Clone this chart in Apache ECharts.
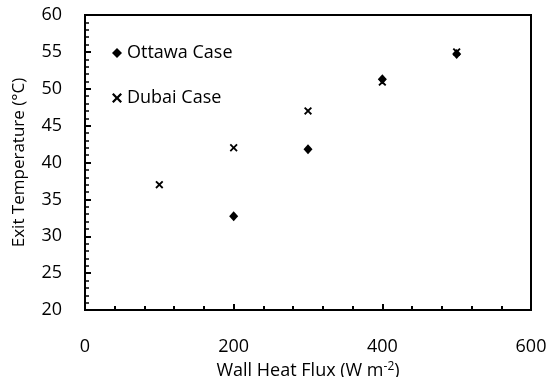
<!DOCTYPE html>
<html>
<head>
<meta charset="utf-8">
<script src="https://cdn.jsdelivr.net/npm/echarts@6/dist/echarts.min.js"></script>
<style>
  html, body { margin: 0; padding: 0; background: #fff; }
  #chart { width: 549px; height: 377px; }
</style>
</head>
<body>
<div id="chart"></div>
<script>
// wall heat flux (W m-2) and exit temperature (°C)
const ottawaFlux = [200, 300, 400, 500]
const ottawaTemp = [32.7, 41.8, 51.3, 54.7]
const dubaiFlux = [100, 200, 300, 400, 500]
const dubaiTemp = [37.0, 42.0, 47.0, 50.9, 55.0]

const crossPath = 'path://M0,1.6L1.6,0L5,3.4L8.4,0L10,1.6L6.6,5L10,8.4L8.4,10L5,6.6L1.6,10L0,8.4L3.4,5Z'
const font = 'Open Sans'

const chart = echarts.init(document.getElementById('chart'))
chart.setOption({
  animation: false,
  textStyle: { fontFamily: font, color: '#000' },
  grid: {
    left: 85, right: 18, top: 15, bottom: 67,
    containLabel: false,
    outerBoundsMode: 'none',
    show: true, borderColor: '#000', borderWidth: 2
  },
  legend: {
    orient: 'vertical',
    left: 107,
    top: 39,
    itemGap: 27,
    itemWidth: 10,
    itemHeight: 10,
    textStyle: { fontFamily: font, fontSize: 18, color: '#000' },
    data: ['Ottawa Case', 'Dubai Case']
  },
  xAxis: {
    type: 'value',
    min: 0, max: 600, interval: 200,
    name: 'Wall Heat Flux (W m{sup|-2})',
    nameLocation: 'middle',
    nameGap: 41,
    nameTextStyle: {
      fontFamily: font, fontSize: 18, color: '#000',
      rich: { sup: { fontSize: 12, verticalAlign: 'top', padding: [0, 0, 7, 0] } }
    },
    axisLine: { lineStyle: { color: '#000', width: 2 } },
    axisTick: { inside: true, length: 6, lineStyle: { color: '#000', width: 2 } },
    minorTick: { show: true, splitNumber: 5, length: 4, lineStyle: { color: '#000', width: 2 } },
    axisLabel: { margin: 28, fontSize: 18, color: '#000', fontFamily: font },
    splitLine: { show: false }
  },
  yAxis: {
    type: 'value',
    min: 20, max: 60, interval: 5,
    name: 'Exit Temperature (°C)',
    nameLocation: 'middle',
    nameGap: 57,
    nameTextStyle: { fontFamily: font, fontSize: 17, color: '#000' },
    axisLine: { lineStyle: { color: '#000', width: 2 } },
    axisTick: { inside: true, length: 6, lineStyle: { color: '#000', width: 2 } },
    minorTick: { show: true, splitNumber: 5, length: 4, lineStyle: { color: '#000', width: 1.5 } },
    axisLabel: { margin: 23, fontSize: 18, color: '#000', fontFamily: font },
    splitLine: { show: false }
  },
  series: [
    {
      name: 'Ottawa Case',
      type: 'scatter',
      symbol: 'diamond',
      symbolSize: [9, 10],
      itemStyle: { color: '#000', opacity: 1 },
      data: ottawaFlux.map((x, i) => [x, ottawaTemp[i]])
    },
    {
      name: 'Dubai Case',
      type: 'scatter',
      symbol: crossPath,
      symbolSize: 8,
      itemStyle: { color: '#000', opacity: 1 },
      data: dubaiFlux.map((x, i) => [x, dubaiTemp[i]])
    }
  ]
})
</script>
</body>
</html>
